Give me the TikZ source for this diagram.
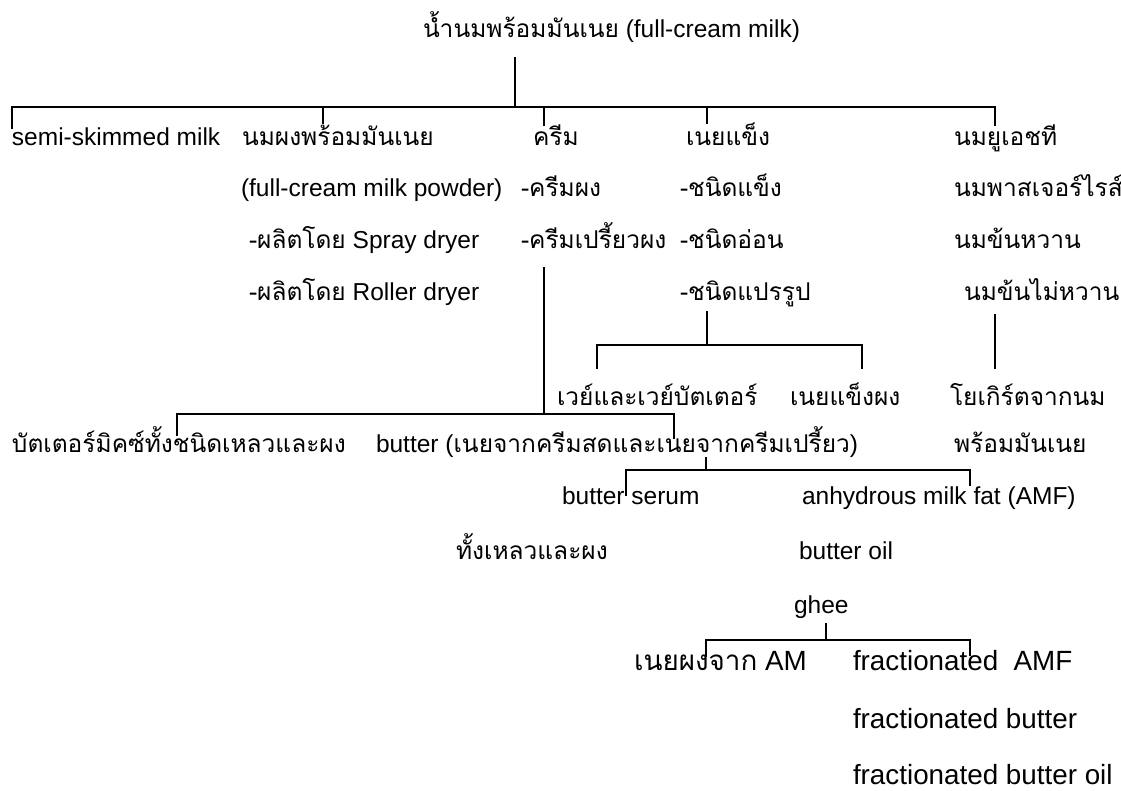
\documentclass[tikz,border=0pt]{standalone}
\usepackage{fontspec}
\setmainfont{Liberation Sans}
\newfontfamily\thai[Script=Thai]{Loma}
\begin{document}
\begin{tikzpicture}[x=1pt,y=-1pt,
  lbl/.style={anchor=base west, inner sep=0pt, outer sep=0pt, font=\fontsize{24.5}{26}\selectfont},
  big/.style={lbl, font=\fontsize{27.8}{30}\selectfont},
  ln/.style={line width=1.7pt, line cap=rect}]
\useasboundingbox (0,0) rectangle (1121,791);
% texts
\node[lbl] (root) at (423,38) {{\thai น้ำนมพร้อมมันเนย} (full-cream milk)};
\node[lbl] (semi) at (12,146) {semi-skimmed milk};
\node[lbl] (powder) at (242,146) {\thai นมผงพร้อมมันเนย};
\node[lbl] (cream) at (533,146) {\thai ครีม};
\node[lbl] (cheese) at (686,146) {\thai เนยแข็ง};
\node[lbl] (uht) at (954,146) {\thai นมยูเอชที};
\node[lbl] (powderb) at (241,197) {(full-cream milk powder)};
\node[lbl] (creama) at (521,197) {\thai -ครีมผง};
\node[lbl] (cheesea) at (680,197) {\thai -ชนิดแข็ง};
\node[lbl] (past) at (954,197) {\thai นมพาสเจอร์ไรส์};
\node[lbl] (spray) at (249,249) {{\thai -ผลิตโดย} Spray dryer};
\node[lbl] (creamb) at (521,249) {\thai -ครีมเปรี้ยวผง};
\node[lbl] (cheeseb) at (680,249) {\thai -ชนิดอ่อน};
\node[lbl] (cond) at (954,249) {\thai นมข้นหวาน};
\node[lbl] (roller) at (249,301) {{\thai -ผลิตโดย} Roller dryer};
\node[lbl] (cheesec) at (680,301) {\thai -ชนิดแปรรูป};
\node[lbl] (evap) at (964,301) {\thai นมข้นไม่หวาน};
\node[lbl] (whey) at (557,405) {\thai เวย์และเวย์บัตเตอร์};
\node[lbl] (cpow) at (790,405) {\thai เนยแข็งผง};
\node[lbl] (yog) at (950,405) {\thai โยเกิร์ตจากนม};
\node[lbl] (bmix) at (12,452) {\thai บัตเตอร์มิคซ์ทั้งชนิดเหลวและผง};
\node[lbl] (butter) at (376,452) {butter ({\thai เนยจากครีมสดและเนยจากครีมเปรี้ยว})};
\node[lbl] (yogb) at (954,452) {\thai พร้อมมันเนย};
\node[lbl] (serum) at (562,504) {butter serum};
\node[lbl] (amf) at (802,504) {anhydrous milk fat (AMF)};
\node[lbl] (bmixb) at (456,559) {\thai ทั้งเหลวและผง};
\node[lbl] (boil) at (799,559) {butter oil};
\node[lbl] (ghee) at (794,613) {ghee};
\node[big] (bpow) at (634,670) {{\thai เนยผงจาก} AM};
\node[big] (famf) at (853,670) {fractionated\ \ AMF};
\node[big] (fbut) at (853,728) {fractionated butter};
\node[big] (fboil) at (853,784) {fractionated butter oil};
% junction points
\coordinate (r0) at (515,58);
\coordinate (r1) at (515,107);
\coordinate (ta) at (12,128);   \coordinate (tat) at (12,107);
\coordinate (tb) at (323,123);  \coordinate (tbt) at (323,107);
\coordinate (tc) at (544,125);  \coordinate (tct) at (544,107);
\coordinate (td) at (707,123);  \coordinate (tdt) at (707,107);
\coordinate (te) at (995,125);  \coordinate (tet) at (995,107);
\coordinate (c0) at (544,268);  \coordinate (c1) at (544,414);
\coordinate (ba) at (177,435);  \coordinate (bat) at (177,414);
\coordinate (bb) at (674,438);  \coordinate (bbt) at (674,414);
\coordinate (k0) at (707,312);  \coordinate (k1) at (707,345);
\coordinate (ka) at (597,368);  \coordinate (kat) at (597,345);
\coordinate (kb) at (862,368);  \coordinate (kbt) at (862,345);
\coordinate (u0) at (995,315);  \coordinate (u1) at (995,368);
\coordinate (s0) at (706,458);  \coordinate (s1) at (706,470);
\coordinate (sa) at (626,495);  \coordinate (sat) at (626,470);
\coordinate (sb) at (970,485);  \coordinate (sbt) at (970,470);
\coordinate (g0) at (826,624);  \coordinate (g1) at (826,640);
\coordinate (ga) at (706,656);  \coordinate (gat) at (706,640);
\coordinate (gb) at (970,655);  \coordinate (gbt) at (970,640);
% connectors
\draw[ln] (r0) -- (r1);
\draw[ln] (ta) -- (tat) -- (tet) -- (te);
\draw[ln] (tbt) -- (tb);
\draw[ln] (tct) -- (tc);
\draw[ln] (tdt) -- (td);
\draw[ln] (c0) -- (c1);
\draw[ln] (ba) -- (bat) -- (bbt) -- (bb);
\draw[ln] (k0) -- (k1);
\draw[ln] (ka) -- (kat) -- (kbt) -- (kb);
\draw[ln] (u0) -- (u1);
\draw[ln] (s0) -- (s1);
\draw[ln] (sa) -- (sat) -- (sbt) -- (sb);
\draw[ln] (g0) -- (g1);
\draw[ln] (ga) -- (gat) -- (gbt) -- (gb);
\end{tikzpicture}
\end{document}
